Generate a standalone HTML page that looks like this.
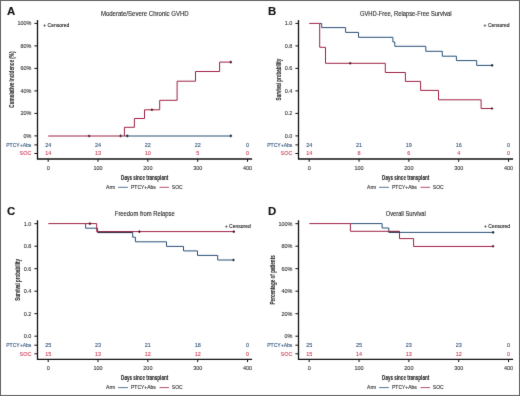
<!DOCTYPE html>
<html><head><meta charset="utf-8"><style>
html,body{margin:0;padding:0;background:#fff;}
svg{display:block;font-family:"Liberation Sans", sans-serif;}
</style></head><body>
<svg width="520" height="396" viewBox="0 0 520 396">
<defs><filter id="soft" x="0" y="0" width="520" height="396" filterUnits="userSpaceOnUse" color-interpolation-filters="sRGB"><feConvolveMatrix order="3" kernelMatrix="0.0064 0.0672 0.0064 0.0672 0.7056 0.0672 0.0064 0.0672 0.0064" edgeMode="duplicate" preserveAlpha="true"/></filter></defs>
<g filter="url(#soft)">
<rect x="0.5" y="0.5" width="519" height="395" fill="#fff" stroke="#646464" stroke-width="1"/>
<text x="7.00" y="15.00" font-size="11.4" text-anchor="start" fill="#111" stroke="#111" stroke-width="0.12" font-weight="bold">A</text>
<text x="144.80" y="16.00" font-size="6.4" text-anchor="middle" fill="#2a2a2a" stroke="#2a2a2a" stroke-width="0.12" font-weight="normal" textLength="87.8" lengthAdjust="spacingAndGlyphs">Moderate/Severe Chronic GVHD</text>
<path d="M37.50,19.90 V159.50 M36.90,159.00 H252.10" stroke="#111111" stroke-width="1.3" fill="none"/>
<path d="M34.40,23.40 H37.50 M34.40,45.90 H37.50 M34.40,68.40 H37.50 M34.40,90.90 H37.50 M34.40,113.40 H37.50 M34.40,135.90 H37.50 M34.40,144.90 H37.50 M34.40,153.50 H37.50" stroke="#111111" stroke-width="1.0" fill="none"/>
<text transform="translate(31.40,25.30) scale(0.96,1)" x="0" y="0" font-size="5.7" text-anchor="end" fill="#383838" stroke="#383838" stroke-width="0.12" font-weight="normal">100%</text>
<text transform="translate(31.40,47.80) scale(0.96,1)" x="0" y="0" font-size="5.7" text-anchor="end" fill="#383838" stroke="#383838" stroke-width="0.12" font-weight="normal">80%</text>
<text transform="translate(31.40,70.30) scale(0.96,1)" x="0" y="0" font-size="5.7" text-anchor="end" fill="#383838" stroke="#383838" stroke-width="0.12" font-weight="normal">60%</text>
<text transform="translate(31.40,92.80) scale(0.96,1)" x="0" y="0" font-size="5.7" text-anchor="end" fill="#383838" stroke="#383838" stroke-width="0.12" font-weight="normal">40%</text>
<text transform="translate(31.40,115.30) scale(0.96,1)" x="0" y="0" font-size="5.7" text-anchor="end" fill="#383838" stroke="#383838" stroke-width="0.12" font-weight="normal">20%</text>
<text transform="translate(31.40,137.80) scale(0.96,1)" x="0" y="0" font-size="5.7" text-anchor="end" fill="#383838" stroke="#383838" stroke-width="0.12" font-weight="normal">0%</text>
<text x="31.40" y="146.80" font-size="5.7" text-anchor="end" fill="#36587e" stroke="#36587e" stroke-width="0.12" font-weight="normal" textLength="25.2" lengthAdjust="spacingAndGlyphs">PTCY+Abs</text>
<text transform="translate(31.40,155.40) scale(0.96,1)" x="0" y="0" font-size="5.7" text-anchor="end" fill="#d0455f" stroke="#d0455f" stroke-width="0.12" font-weight="normal">SOC</text>
<path d="M48.20,159.00 V161.80 M98.03,159.00 V161.80 M147.86,159.00 V161.80 M197.69,159.00 V161.80 M247.52,159.00 V161.80" stroke="#111111" stroke-width="1.0" fill="none"/>
<text transform="translate(48.20,169.50) scale(0.96,1)" x="0" y="0" font-size="5.7" text-anchor="middle" fill="#383838" stroke="#383838" stroke-width="0.12" font-weight="normal">0</text>
<text transform="translate(98.03,169.50) scale(0.96,1)" x="0" y="0" font-size="5.7" text-anchor="middle" fill="#383838" stroke="#383838" stroke-width="0.12" font-weight="normal">100</text>
<text transform="translate(147.86,169.50) scale(0.96,1)" x="0" y="0" font-size="5.7" text-anchor="middle" fill="#383838" stroke="#383838" stroke-width="0.12" font-weight="normal">200</text>
<text transform="translate(197.69,169.50) scale(0.96,1)" x="0" y="0" font-size="5.7" text-anchor="middle" fill="#383838" stroke="#383838" stroke-width="0.12" font-weight="normal">300</text>
<text transform="translate(247.52,169.50) scale(0.96,1)" x="0" y="0" font-size="5.7" text-anchor="middle" fill="#383838" stroke="#383838" stroke-width="0.12" font-weight="normal">400</text>
<text transform="translate(48.20,146.80) scale(0.96,1)" x="0" y="0" font-size="5.7" text-anchor="middle" fill="#36587e" stroke="#36587e" stroke-width="0.12" font-weight="normal">24</text>
<text transform="translate(48.20,155.40) scale(0.96,1)" x="0" y="0" font-size="5.7" text-anchor="middle" fill="#d0455f" stroke="#d0455f" stroke-width="0.12" font-weight="normal">14</text>
<text transform="translate(98.03,146.80) scale(0.96,1)" x="0" y="0" font-size="5.7" text-anchor="middle" fill="#36587e" stroke="#36587e" stroke-width="0.12" font-weight="normal">24</text>
<text transform="translate(98.03,155.40) scale(0.96,1)" x="0" y="0" font-size="5.7" text-anchor="middle" fill="#d0455f" stroke="#d0455f" stroke-width="0.12" font-weight="normal">13</text>
<text transform="translate(147.86,146.80) scale(0.96,1)" x="0" y="0" font-size="5.7" text-anchor="middle" fill="#36587e" stroke="#36587e" stroke-width="0.12" font-weight="normal">22</text>
<text transform="translate(147.86,155.40) scale(0.96,1)" x="0" y="0" font-size="5.7" text-anchor="middle" fill="#d0455f" stroke="#d0455f" stroke-width="0.12" font-weight="normal">10</text>
<text transform="translate(197.69,146.80) scale(0.96,1)" x="0" y="0" font-size="5.7" text-anchor="middle" fill="#36587e" stroke="#36587e" stroke-width="0.12" font-weight="normal">22</text>
<text transform="translate(197.69,155.40) scale(0.96,1)" x="0" y="0" font-size="5.7" text-anchor="middle" fill="#d0455f" stroke="#d0455f" stroke-width="0.12" font-weight="normal">5</text>
<text transform="translate(247.52,146.80) scale(0.96,1)" x="0" y="0" font-size="5.7" text-anchor="middle" fill="#36587e" stroke="#36587e" stroke-width="0.12" font-weight="normal">0</text>
<text transform="translate(247.52,155.40) scale(0.96,1)" x="0" y="0" font-size="5.7" text-anchor="middle" fill="#d0455f" stroke="#d0455f" stroke-width="0.12" font-weight="normal">0</text>
<text transform="translate(121.10,179.80) scale(0.70228,1)" x="0" y="0" font-size="6.5" fill="#222" stroke="#222" stroke-width="0.1" font-weight="bold">Days since transplant</text>
<text transform="translate(13.50,107.65) rotate(-90) scale(0.73794,1) translate(-0.000,0)" x="0" y="0" font-size="6.3" fill="#2a2a2a" stroke="#2a2a2a" stroke-width="0.1" font-weight="bold">Cumulative incidence (%)</text>
<text x="106.10" y="189.10" font-size="5.0" text-anchor="start" fill="#333" stroke="#333" stroke-width="0.12" font-weight="normal">Arm</text>
<path d="M118.10,187.30 H127.90" stroke="#2a5078" stroke-width="0.8"/>
<text x="131.00" y="189.10" font-size="5.0" text-anchor="start" fill="#333" stroke="#333" stroke-width="0.12" font-weight="normal">PTCY+Abs</text>
<path d="M159.50,187.30 H169.00" stroke="#9e2244" stroke-width="0.8"/>
<text x="171.80" y="189.10" font-size="5.0" text-anchor="start" fill="#333" stroke="#333" stroke-width="0.12" font-weight="normal">SOC</text>
<text x="43.30" y="27.30" font-size="5.15" text-anchor="start" fill="#222" stroke="#222" stroke-width="0.12" font-weight="normal" textLength="26.0" lengthAdjust="spacingAndGlyphs">+ Censored</text>
<path d="M 124.40,136.00 H 230.90" stroke="#2a5078" stroke-width="1.0" fill="none"/>
<path d="M119.40,135.90 H121.80 M120.60,134.60 V137.20" stroke="#1c2a3a" stroke-width="1.1"/>
<path d="M126.10,135.90 H128.50 M127.30,134.60 V137.20" stroke="#1c2a3a" stroke-width="1.1"/>
<path d="M229.70,135.90 H232.10 M230.90,134.60 V137.20" stroke="#1c2a3a" stroke-width="1.1"/>
<path d="M 48.20,136.00 H 124.40 V 127.30 H 134.40 V 118.50 H 144.50 V 109.80 H 159.70 V 100.30 H 177.10 V 81.20 H 195.50 V 71.50 H 219.60 V 62.10 H 230.80" stroke="#9e2244" stroke-width="1.0" fill="none"/>
<path d="M87.90,136.00 H90.30 M89.10,134.70 V137.30" stroke="#5a1428" stroke-width="1.1"/>
<path d="M150.70,109.80 H153.10 M151.90,108.50 V111.10" stroke="#5a1428" stroke-width="1.1"/>
<path d="M229.60,62.10 H232.00 M230.80,60.80 V63.40" stroke="#5a1428" stroke-width="1.1"/>
<text x="268.00" y="15.00" font-size="11.4" text-anchor="start" fill="#111" stroke="#111" stroke-width="0.12" font-weight="bold">B</text>
<text x="405.80" y="16.00" font-size="6.4" text-anchor="middle" fill="#2a2a2a" stroke="#2a2a2a" stroke-width="0.12" font-weight="normal" textLength="91.7" lengthAdjust="spacingAndGlyphs">GVHD-Free, Relapse-Free Survival</text>
<path d="M298.50,19.90 V159.50 M297.90,159.00 H513.10" stroke="#111111" stroke-width="1.3" fill="none"/>
<path d="M295.40,23.40 H298.50 M295.40,45.90 H298.50 M295.40,68.40 H298.50 M295.40,90.90 H298.50 M295.40,113.40 H298.50 M295.40,135.90 H298.50 M295.40,144.90 H298.50 M295.40,153.50 H298.50" stroke="#111111" stroke-width="1.0" fill="none"/>
<text transform="translate(292.40,25.30) scale(0.96,1)" x="0" y="0" font-size="5.7" text-anchor="end" fill="#383838" stroke="#383838" stroke-width="0.12" font-weight="normal">1.0</text>
<text transform="translate(292.40,47.80) scale(0.96,1)" x="0" y="0" font-size="5.7" text-anchor="end" fill="#383838" stroke="#383838" stroke-width="0.12" font-weight="normal">0.8</text>
<text transform="translate(292.40,70.30) scale(0.96,1)" x="0" y="0" font-size="5.7" text-anchor="end" fill="#383838" stroke="#383838" stroke-width="0.12" font-weight="normal">0.6</text>
<text transform="translate(292.40,92.80) scale(0.96,1)" x="0" y="0" font-size="5.7" text-anchor="end" fill="#383838" stroke="#383838" stroke-width="0.12" font-weight="normal">0.4</text>
<text transform="translate(292.40,115.30) scale(0.96,1)" x="0" y="0" font-size="5.7" text-anchor="end" fill="#383838" stroke="#383838" stroke-width="0.12" font-weight="normal">0.2</text>
<text transform="translate(292.40,137.80) scale(0.96,1)" x="0" y="0" font-size="5.7" text-anchor="end" fill="#383838" stroke="#383838" stroke-width="0.12" font-weight="normal">0.0</text>
<text x="292.40" y="146.80" font-size="5.7" text-anchor="end" fill="#36587e" stroke="#36587e" stroke-width="0.12" font-weight="normal" textLength="25.2" lengthAdjust="spacingAndGlyphs">PTCY+Abs</text>
<text transform="translate(292.40,155.40) scale(0.96,1)" x="0" y="0" font-size="5.7" text-anchor="end" fill="#d0455f" stroke="#d0455f" stroke-width="0.12" font-weight="normal">SOC</text>
<path d="M309.20,159.00 V161.80 M359.03,159.00 V161.80 M408.86,159.00 V161.80 M458.69,159.00 V161.80 M508.52,159.00 V161.80" stroke="#111111" stroke-width="1.0" fill="none"/>
<text transform="translate(309.20,169.50) scale(0.96,1)" x="0" y="0" font-size="5.7" text-anchor="middle" fill="#383838" stroke="#383838" stroke-width="0.12" font-weight="normal">0</text>
<text transform="translate(359.03,169.50) scale(0.96,1)" x="0" y="0" font-size="5.7" text-anchor="middle" fill="#383838" stroke="#383838" stroke-width="0.12" font-weight="normal">100</text>
<text transform="translate(408.86,169.50) scale(0.96,1)" x="0" y="0" font-size="5.7" text-anchor="middle" fill="#383838" stroke="#383838" stroke-width="0.12" font-weight="normal">200</text>
<text transform="translate(458.69,169.50) scale(0.96,1)" x="0" y="0" font-size="5.7" text-anchor="middle" fill="#383838" stroke="#383838" stroke-width="0.12" font-weight="normal">300</text>
<text transform="translate(508.52,169.50) scale(0.96,1)" x="0" y="0" font-size="5.7" text-anchor="middle" fill="#383838" stroke="#383838" stroke-width="0.12" font-weight="normal">400</text>
<text transform="translate(309.20,146.80) scale(0.96,1)" x="0" y="0" font-size="5.7" text-anchor="middle" fill="#36587e" stroke="#36587e" stroke-width="0.12" font-weight="normal">24</text>
<text transform="translate(309.20,155.40) scale(0.96,1)" x="0" y="0" font-size="5.7" text-anchor="middle" fill="#d0455f" stroke="#d0455f" stroke-width="0.12" font-weight="normal">14</text>
<text transform="translate(359.03,146.80) scale(0.96,1)" x="0" y="0" font-size="5.7" text-anchor="middle" fill="#36587e" stroke="#36587e" stroke-width="0.12" font-weight="normal">21</text>
<text transform="translate(359.03,155.40) scale(0.96,1)" x="0" y="0" font-size="5.7" text-anchor="middle" fill="#d0455f" stroke="#d0455f" stroke-width="0.12" font-weight="normal">8</text>
<text transform="translate(408.86,146.80) scale(0.96,1)" x="0" y="0" font-size="5.7" text-anchor="middle" fill="#36587e" stroke="#36587e" stroke-width="0.12" font-weight="normal">19</text>
<text transform="translate(408.86,155.40) scale(0.96,1)" x="0" y="0" font-size="5.7" text-anchor="middle" fill="#d0455f" stroke="#d0455f" stroke-width="0.12" font-weight="normal">6</text>
<text transform="translate(458.69,146.80) scale(0.96,1)" x="0" y="0" font-size="5.7" text-anchor="middle" fill="#36587e" stroke="#36587e" stroke-width="0.12" font-weight="normal">16</text>
<text transform="translate(458.69,155.40) scale(0.96,1)" x="0" y="0" font-size="5.7" text-anchor="middle" fill="#d0455f" stroke="#d0455f" stroke-width="0.12" font-weight="normal">4</text>
<text transform="translate(508.52,146.80) scale(0.96,1)" x="0" y="0" font-size="5.7" text-anchor="middle" fill="#36587e" stroke="#36587e" stroke-width="0.12" font-weight="normal">0</text>
<text transform="translate(508.52,155.40) scale(0.96,1)" x="0" y="0" font-size="5.7" text-anchor="middle" fill="#d0455f" stroke="#d0455f" stroke-width="0.12" font-weight="normal">0</text>
<text transform="translate(382.10,179.80) scale(0.70228,1)" x="0" y="0" font-size="6.5" fill="#222" stroke="#222" stroke-width="0.1" font-weight="bold">Days since transplant</text>
<text transform="translate(280.90,100.50) rotate(-90) scale(0.71839,1) translate(-0.000,0)" x="0" y="0" font-size="6.3" fill="#2a2a2a" stroke="#2a2a2a" stroke-width="0.1" font-weight="bold">Survival probability</text>
<text x="367.10" y="189.10" font-size="5.0" text-anchor="start" fill="#333" stroke="#333" stroke-width="0.12" font-weight="normal">Arm</text>
<path d="M379.10,187.30 H388.90" stroke="#2a5078" stroke-width="0.8"/>
<text x="392.00" y="189.10" font-size="5.0" text-anchor="start" fill="#333" stroke="#333" stroke-width="0.12" font-weight="normal">PTCY+Abs</text>
<path d="M420.50,187.30 H430.00" stroke="#9e2244" stroke-width="0.8"/>
<text x="432.80" y="189.10" font-size="5.0" text-anchor="start" fill="#333" stroke="#333" stroke-width="0.12" font-weight="normal">SOC</text>
<text x="483.60" y="27.40" font-size="5.15" text-anchor="start" fill="#222" stroke="#222" stroke-width="0.12" font-weight="normal" textLength="26.0" lengthAdjust="spacingAndGlyphs">+ Censored</text>
<path d="M 319.70,23.40 H 321.70 V 27.60 H 345.60 V 32.40 H 358.50 V 37.30 H 392.90 V 42.00 H 394.80 V 46.30 H 425.80 V 51.30 H 442.30 V 56.20 H 456.40 V 60.60 H 476.70 V 65.40 H 492.10" stroke="#2a5078" stroke-width="1.0" fill="none"/>
<path d="M490.90,65.40 H493.30 M492.10,64.10 V66.70" stroke="#1c2a3a" stroke-width="1.1"/>
<path d="M 309.20,23.40 H 319.70 V 47.30 H 325.50 V 63.30 H 385.30 V 72.50 H 405.40 V 81.40 H 420.60 V 90.40 H 438.50 V 99.80 H 481.10 V 108.50 H 492.00" stroke="#9e2244" stroke-width="1.0" fill="none"/>
<path d="M349.00,63.30 H351.40 M350.20,62.00 V64.60" stroke="#5a1428" stroke-width="1.1"/>
<path d="M490.80,108.50 H493.20 M492.00,107.20 V109.80" stroke="#5a1428" stroke-width="1.1"/>
<text x="7.00" y="215.30" font-size="11.4" text-anchor="start" fill="#111" stroke="#111" stroke-width="0.12" font-weight="bold">C</text>
<text x="144.80" y="216.30" font-size="6.4" text-anchor="middle" fill="#2a2a2a" stroke="#2a2a2a" stroke-width="0.12" font-weight="normal" textLength="60.0" lengthAdjust="spacingAndGlyphs">Freedom from Relapse</text>
<path d="M37.50,220.20 V359.80 M36.90,359.30 H252.10" stroke="#111111" stroke-width="1.3" fill="none"/>
<path d="M34.40,223.70 H37.50 M34.40,246.20 H37.50 M34.40,268.70 H37.50 M34.40,291.20 H37.50 M34.40,313.70 H37.50 M34.40,336.20 H37.50 M34.40,345.20 H37.50 M34.40,353.80 H37.50" stroke="#111111" stroke-width="1.0" fill="none"/>
<text transform="translate(31.40,225.60) scale(0.96,1)" x="0" y="0" font-size="5.7" text-anchor="end" fill="#383838" stroke="#383838" stroke-width="0.12" font-weight="normal">1.0</text>
<text transform="translate(31.40,248.10) scale(0.96,1)" x="0" y="0" font-size="5.7" text-anchor="end" fill="#383838" stroke="#383838" stroke-width="0.12" font-weight="normal">0.8</text>
<text transform="translate(31.40,270.60) scale(0.96,1)" x="0" y="0" font-size="5.7" text-anchor="end" fill="#383838" stroke="#383838" stroke-width="0.12" font-weight="normal">0.6</text>
<text transform="translate(31.40,293.10) scale(0.96,1)" x="0" y="0" font-size="5.7" text-anchor="end" fill="#383838" stroke="#383838" stroke-width="0.12" font-weight="normal">0.4</text>
<text transform="translate(31.40,315.60) scale(0.96,1)" x="0" y="0" font-size="5.7" text-anchor="end" fill="#383838" stroke="#383838" stroke-width="0.12" font-weight="normal">0.2</text>
<text transform="translate(31.40,338.10) scale(0.96,1)" x="0" y="0" font-size="5.7" text-anchor="end" fill="#383838" stroke="#383838" stroke-width="0.12" font-weight="normal">0.0</text>
<text x="31.40" y="347.10" font-size="5.7" text-anchor="end" fill="#36587e" stroke="#36587e" stroke-width="0.12" font-weight="normal" textLength="25.2" lengthAdjust="spacingAndGlyphs">PTCY+Abs</text>
<text transform="translate(31.40,355.70) scale(0.96,1)" x="0" y="0" font-size="5.7" text-anchor="end" fill="#d0455f" stroke="#d0455f" stroke-width="0.12" font-weight="normal">SOC</text>
<path d="M48.20,359.30 V362.10 M98.03,359.30 V362.10 M147.86,359.30 V362.10 M197.69,359.30 V362.10 M247.52,359.30 V362.10" stroke="#111111" stroke-width="1.0" fill="none"/>
<text transform="translate(48.20,369.80) scale(0.96,1)" x="0" y="0" font-size="5.7" text-anchor="middle" fill="#383838" stroke="#383838" stroke-width="0.12" font-weight="normal">0</text>
<text transform="translate(98.03,369.80) scale(0.96,1)" x="0" y="0" font-size="5.7" text-anchor="middle" fill="#383838" stroke="#383838" stroke-width="0.12" font-weight="normal">100</text>
<text transform="translate(147.86,369.80) scale(0.96,1)" x="0" y="0" font-size="5.7" text-anchor="middle" fill="#383838" stroke="#383838" stroke-width="0.12" font-weight="normal">200</text>
<text transform="translate(197.69,369.80) scale(0.96,1)" x="0" y="0" font-size="5.7" text-anchor="middle" fill="#383838" stroke="#383838" stroke-width="0.12" font-weight="normal">300</text>
<text transform="translate(247.52,369.80) scale(0.96,1)" x="0" y="0" font-size="5.7" text-anchor="middle" fill="#383838" stroke="#383838" stroke-width="0.12" font-weight="normal">400</text>
<text transform="translate(48.20,347.10) scale(0.96,1)" x="0" y="0" font-size="5.7" text-anchor="middle" fill="#36587e" stroke="#36587e" stroke-width="0.12" font-weight="normal">25</text>
<text transform="translate(48.20,355.70) scale(0.96,1)" x="0" y="0" font-size="5.7" text-anchor="middle" fill="#d0455f" stroke="#d0455f" stroke-width="0.12" font-weight="normal">15</text>
<text transform="translate(98.03,347.10) scale(0.96,1)" x="0" y="0" font-size="5.7" text-anchor="middle" fill="#36587e" stroke="#36587e" stroke-width="0.12" font-weight="normal">23</text>
<text transform="translate(98.03,355.70) scale(0.96,1)" x="0" y="0" font-size="5.7" text-anchor="middle" fill="#d0455f" stroke="#d0455f" stroke-width="0.12" font-weight="normal">13</text>
<text transform="translate(147.86,347.10) scale(0.96,1)" x="0" y="0" font-size="5.7" text-anchor="middle" fill="#36587e" stroke="#36587e" stroke-width="0.12" font-weight="normal">21</text>
<text transform="translate(147.86,355.70) scale(0.96,1)" x="0" y="0" font-size="5.7" text-anchor="middle" fill="#d0455f" stroke="#d0455f" stroke-width="0.12" font-weight="normal">12</text>
<text transform="translate(197.69,347.10) scale(0.96,1)" x="0" y="0" font-size="5.7" text-anchor="middle" fill="#36587e" stroke="#36587e" stroke-width="0.12" font-weight="normal">18</text>
<text transform="translate(197.69,355.70) scale(0.96,1)" x="0" y="0" font-size="5.7" text-anchor="middle" fill="#d0455f" stroke="#d0455f" stroke-width="0.12" font-weight="normal">12</text>
<text transform="translate(247.52,347.10) scale(0.96,1)" x="0" y="0" font-size="5.7" text-anchor="middle" fill="#36587e" stroke="#36587e" stroke-width="0.12" font-weight="normal">0</text>
<text transform="translate(247.52,355.70) scale(0.96,1)" x="0" y="0" font-size="5.7" text-anchor="middle" fill="#d0455f" stroke="#d0455f" stroke-width="0.12" font-weight="normal">0</text>
<text transform="translate(121.10,380.10) scale(0.70228,1)" x="0" y="0" font-size="6.5" fill="#222" stroke="#222" stroke-width="0.1" font-weight="bold">Days since transplant</text>
<text transform="translate(19.90,300.80) rotate(-90) scale(0.71839,1) translate(-0.000,0)" x="0" y="0" font-size="6.3" fill="#2a2a2a" stroke="#2a2a2a" stroke-width="0.1" font-weight="bold">Survival probability</text>
<text x="106.10" y="389.40" font-size="5.0" text-anchor="start" fill="#333" stroke="#333" stroke-width="0.12" font-weight="normal">Arm</text>
<path d="M118.10,387.60 H127.90" stroke="#2a5078" stroke-width="0.8"/>
<text x="131.00" y="389.40" font-size="5.0" text-anchor="start" fill="#333" stroke="#333" stroke-width="0.12" font-weight="normal">PTCY+Abs</text>
<path d="M159.50,387.60 H169.00" stroke="#9e2244" stroke-width="0.8"/>
<text x="171.80" y="389.40" font-size="5.0" text-anchor="start" fill="#333" stroke="#333" stroke-width="0.12" font-weight="normal">SOC</text>
<text x="224.80" y="227.90" font-size="5.15" text-anchor="start" fill="#222" stroke="#222" stroke-width="0.12" font-weight="normal" textLength="26.0" lengthAdjust="spacingAndGlyphs">+ Censored</text>
<path d="M 85.60,223.60 V 228.20 H 97.60 V 232.60 H 132.70 V 237.20 H 135.40 V 241.80 H 166.50 V 246.40 H 183.50 V 250.90 H 197.50 V 255.40 H 217.70 V 260.00 H 233.50" stroke="#2a5078" stroke-width="1.0" fill="none"/>
<path d="M232.30,260.00 H234.70 M233.50,258.70 V261.30" stroke="#1c2a3a" stroke-width="1.1"/>
<path d="M 48.30,223.60 H 96.70 V 231.60 H 233.80" stroke="#9e2244" stroke-width="1.0" fill="none"/>
<path d="M88.70,223.60 H91.10 M89.90,222.30 V224.90" stroke="#5a1428" stroke-width="1.1"/>
<path d="M138.20,231.60 H140.60 M139.40,230.30 V232.90" stroke="#5a1428" stroke-width="1.1"/>
<path d="M232.60,231.60 H235.00 M233.80,230.30 V232.90" stroke="#5a1428" stroke-width="1.1"/>
<path d="M 97.60,232.30 H 132.70" stroke="#3a1a2c" stroke-width="0.8" fill="none"/>
<text x="268.00" y="215.30" font-size="11.4" text-anchor="start" fill="#111" stroke="#111" stroke-width="0.12" font-weight="bold">D</text>
<text x="405.80" y="216.30" font-size="6.4" text-anchor="middle" fill="#2a2a2a" stroke="#2a2a2a" stroke-width="0.12" font-weight="normal" textLength="40.0" lengthAdjust="spacingAndGlyphs">Overall Survival</text>
<path d="M298.50,220.20 V359.80 M297.90,359.30 H513.10" stroke="#111111" stroke-width="1.3" fill="none"/>
<path d="M295.40,223.70 H298.50 M295.40,246.20 H298.50 M295.40,268.70 H298.50 M295.40,291.20 H298.50 M295.40,313.70 H298.50 M295.40,336.20 H298.50 M295.40,345.20 H298.50 M295.40,353.80 H298.50" stroke="#111111" stroke-width="1.0" fill="none"/>
<text transform="translate(292.40,225.60) scale(0.96,1)" x="0" y="0" font-size="5.7" text-anchor="end" fill="#383838" stroke="#383838" stroke-width="0.12" font-weight="normal">100%</text>
<text transform="translate(292.40,248.10) scale(0.96,1)" x="0" y="0" font-size="5.7" text-anchor="end" fill="#383838" stroke="#383838" stroke-width="0.12" font-weight="normal">80%</text>
<text transform="translate(292.40,270.60) scale(0.96,1)" x="0" y="0" font-size="5.7" text-anchor="end" fill="#383838" stroke="#383838" stroke-width="0.12" font-weight="normal">60%</text>
<text transform="translate(292.40,293.10) scale(0.96,1)" x="0" y="0" font-size="5.7" text-anchor="end" fill="#383838" stroke="#383838" stroke-width="0.12" font-weight="normal">40%</text>
<text transform="translate(292.40,315.60) scale(0.96,1)" x="0" y="0" font-size="5.7" text-anchor="end" fill="#383838" stroke="#383838" stroke-width="0.12" font-weight="normal">20%</text>
<text transform="translate(292.40,338.10) scale(0.96,1)" x="0" y="0" font-size="5.7" text-anchor="end" fill="#383838" stroke="#383838" stroke-width="0.12" font-weight="normal">0%</text>
<text x="292.40" y="347.10" font-size="5.7" text-anchor="end" fill="#36587e" stroke="#36587e" stroke-width="0.12" font-weight="normal" textLength="25.2" lengthAdjust="spacingAndGlyphs">PTCY+Abs</text>
<text transform="translate(292.40,355.70) scale(0.96,1)" x="0" y="0" font-size="5.7" text-anchor="end" fill="#d0455f" stroke="#d0455f" stroke-width="0.12" font-weight="normal">SOC</text>
<path d="M309.20,359.30 V362.10 M359.03,359.30 V362.10 M408.86,359.30 V362.10 M458.69,359.30 V362.10 M508.52,359.30 V362.10" stroke="#111111" stroke-width="1.0" fill="none"/>
<text transform="translate(309.20,369.80) scale(0.96,1)" x="0" y="0" font-size="5.7" text-anchor="middle" fill="#383838" stroke="#383838" stroke-width="0.12" font-weight="normal">0</text>
<text transform="translate(359.03,369.80) scale(0.96,1)" x="0" y="0" font-size="5.7" text-anchor="middle" fill="#383838" stroke="#383838" stroke-width="0.12" font-weight="normal">100</text>
<text transform="translate(408.86,369.80) scale(0.96,1)" x="0" y="0" font-size="5.7" text-anchor="middle" fill="#383838" stroke="#383838" stroke-width="0.12" font-weight="normal">200</text>
<text transform="translate(458.69,369.80) scale(0.96,1)" x="0" y="0" font-size="5.7" text-anchor="middle" fill="#383838" stroke="#383838" stroke-width="0.12" font-weight="normal">300</text>
<text transform="translate(508.52,369.80) scale(0.96,1)" x="0" y="0" font-size="5.7" text-anchor="middle" fill="#383838" stroke="#383838" stroke-width="0.12" font-weight="normal">400</text>
<text transform="translate(309.20,347.10) scale(0.96,1)" x="0" y="0" font-size="5.7" text-anchor="middle" fill="#36587e" stroke="#36587e" stroke-width="0.12" font-weight="normal">25</text>
<text transform="translate(309.20,355.70) scale(0.96,1)" x="0" y="0" font-size="5.7" text-anchor="middle" fill="#d0455f" stroke="#d0455f" stroke-width="0.12" font-weight="normal">15</text>
<text transform="translate(359.03,347.10) scale(0.96,1)" x="0" y="0" font-size="5.7" text-anchor="middle" fill="#36587e" stroke="#36587e" stroke-width="0.12" font-weight="normal">25</text>
<text transform="translate(359.03,355.70) scale(0.96,1)" x="0" y="0" font-size="5.7" text-anchor="middle" fill="#d0455f" stroke="#d0455f" stroke-width="0.12" font-weight="normal">14</text>
<text transform="translate(408.86,347.10) scale(0.96,1)" x="0" y="0" font-size="5.7" text-anchor="middle" fill="#36587e" stroke="#36587e" stroke-width="0.12" font-weight="normal">23</text>
<text transform="translate(408.86,355.70) scale(0.96,1)" x="0" y="0" font-size="5.7" text-anchor="middle" fill="#d0455f" stroke="#d0455f" stroke-width="0.12" font-weight="normal">13</text>
<text transform="translate(458.69,347.10) scale(0.96,1)" x="0" y="0" font-size="5.7" text-anchor="middle" fill="#36587e" stroke="#36587e" stroke-width="0.12" font-weight="normal">23</text>
<text transform="translate(458.69,355.70) scale(0.96,1)" x="0" y="0" font-size="5.7" text-anchor="middle" fill="#d0455f" stroke="#d0455f" stroke-width="0.12" font-weight="normal">12</text>
<text transform="translate(508.52,347.10) scale(0.96,1)" x="0" y="0" font-size="5.7" text-anchor="middle" fill="#36587e" stroke="#36587e" stroke-width="0.12" font-weight="normal">0</text>
<text transform="translate(508.52,355.70) scale(0.96,1)" x="0" y="0" font-size="5.7" text-anchor="middle" fill="#d0455f" stroke="#d0455f" stroke-width="0.12" font-weight="normal">0</text>
<text transform="translate(382.10,380.10) scale(0.70228,1)" x="0" y="0" font-size="6.5" fill="#222" stroke="#222" stroke-width="0.1" font-weight="bold">Days since transplant</text>
<text transform="translate(274.60,304.45) rotate(-90) scale(0.72998,1) translate(-0.000,0)" x="0" y="0" font-size="6.3" fill="#2a2a2a" stroke="#2a2a2a" stroke-width="0.1" font-weight="bold">Percentage of patients</text>
<text x="367.10" y="389.40" font-size="5.0" text-anchor="start" fill="#333" stroke="#333" stroke-width="0.12" font-weight="normal">Arm</text>
<path d="M379.10,387.60 H388.90" stroke="#2a5078" stroke-width="0.8"/>
<text x="392.00" y="389.40" font-size="5.0" text-anchor="start" fill="#333" stroke="#333" stroke-width="0.12" font-weight="normal">PTCY+Abs</text>
<path d="M420.50,387.60 H430.00" stroke="#9e2244" stroke-width="0.8"/>
<text x="432.80" y="389.40" font-size="5.0" text-anchor="start" fill="#333" stroke="#333" stroke-width="0.12" font-weight="normal">SOC</text>
<text x="484.00" y="227.90" font-size="5.15" text-anchor="start" fill="#222" stroke="#222" stroke-width="0.12" font-weight="normal" textLength="26.0" lengthAdjust="spacingAndGlyphs">+ Censored</text>
<path d="M 350.40,223.60 H 382.10 V 228.00 H 388.80 V 232.40 H 493.10" stroke="#2a5078" stroke-width="1.0" fill="none"/>
<path d="M491.90,232.40 H494.30 M493.10,231.10 V233.70" stroke="#1c2a3a" stroke-width="1.1"/>
<path d="M 309.30,223.60 H 350.40 V 231.30 H 399.50 V 238.60 H 413.60 V 246.45 H 493.10" stroke="#9e2244" stroke-width="1.0" fill="none"/>
<path d="M491.90,246.30 H494.30 M493.10,245.00 V247.60" stroke="#5a1428" stroke-width="1.1"/>
<path d="M 388.80,232.00 H 399.50" stroke="#3a1a2c" stroke-width="0.8" fill="none"/>
</g>
</svg>
</body></html>
